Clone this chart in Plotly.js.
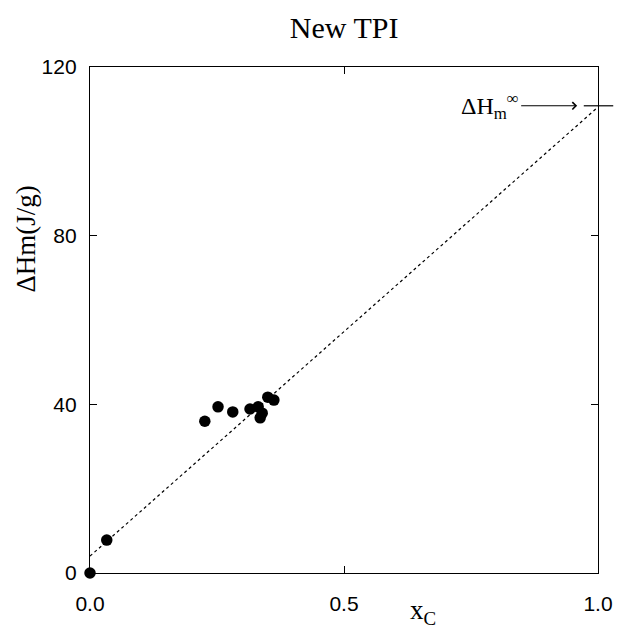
<!DOCTYPE html>
<html><head><meta charset="utf-8">
<script src="https://cdn.plot.ly/plotly-3.0.1.min.js"></script>
<style>html,body{margin:0;padding:0;background:#fff}</style>
</head><body>
<div id="chart" style="width:620px;height:628px"></div>
<script>
const xc = [0.0, 0.033, 0.226, 0.252, 0.281, 0.315, 0.331, 0.335, 0.339, 0.350, 0.362];
const dh = [0.0, 7.8, 36.0, 39.4, 38.2, 38.9, 39.4, 36.8, 37.9, 41.7, 41.0];
const fitX = [0.0, 1.0];
const fitY = [4.0, 110.5];
const xTicks = [0, 0.5, 1.0];
const yTicks = [0, 40, 80, 120];
const hInf = 110.8;

const traces = [
  {x: fitX, y: fitY, mode: 'lines', line: {color: '#000', width: 1.2, dash: 'dot'}, hoverinfo: 'skip', cliponaxis: false},
  {x: xc, y: dh, mode: 'markers', marker: {color: '#000', size: 11.5}, cliponaxis: false}
];
const serif = 'Liberation Serif, Times New Roman, serif';
const sans = 'Liberation Sans, Arial, sans-serif';
const layout = {
  width: 620, height: 628,
  margin: {l: 90, r: 22, t: 67, b: 55},
  paper_bgcolor: '#fff', plot_bgcolor: '#fff',
  showlegend: false,
  title: {text: 'New TPI', font: {family: serif, size: 30, color: '#000'}, x: 0.555, xanchor: 'center', y: 0.957, yanchor: 'middle'},
  xaxis: {range: [0, 1], tickvals: xTicks, tickformat: '.1f', ticks: 'inside', ticklen: 7, tickcolor: '#000',
    showline: true, linecolor: '#000', linewidth: 1.2, mirror: 'ticks', showgrid: false, zeroline: false,
    ticklabelstandoff: 12,
    tickfont: {family: sans, size: 21, color: '#000'}},
  yaxis: {range: [0, 120], tickvals: yTicks, ticks: 'inside', ticklen: 7, tickcolor: '#000',
    showline: true, linecolor: '#000', linewidth: 1.2, mirror: 'ticks', showgrid: false, zeroline: false,
    ticklabelstandoff: 8,
    tickfont: {family: sans, size: 21, color: '#000'}},
  shapes: [
    {type: 'line', xref: 'paper', yref: 'y', x0: 0.972, x1: 1.03, y0: hInf, y1: hInf, line: {color: '#000', width: 1.2}}
  ],
  annotations: [
    {xref: 'paper', yref: 'paper', x: -0.125, y: 0.66, text: 'ΔHm(J/g)', textangle: -90, showarrow: false,
      font: {family: serif, size: 27, color: '#000'}, xanchor: 'center', yanchor: 'middle'},
    {xref: 'paper', yref: 'paper', x: 0.655, y: -0.04, text: 'x<sub>C</sub>', showarrow: false,
      font: {family: serif, size: 27, color: '#000'}, xanchor: 'center', yanchor: 'top'},
    {xref: 'x', yref: 'y', x: 0.959, y: hInf, ax: -56, ay: 0, axref: 'pixel', ayref: 'pixel',
      text: 'ΔH<sub>m</sub><sup>∞</sup>', showarrow: true, arrowhead: 4, arrowsize: 1.3, arrowwidth: 1.1, arrowcolor: '#000',
      xanchor: 'right', font: {family: serif, size: 24, color: '#000'}}
  ]
};
Plotly.newPlot('chart', traces, layout, {displayModeBar: false, staticPlot: true});
</script>
</body></html>
